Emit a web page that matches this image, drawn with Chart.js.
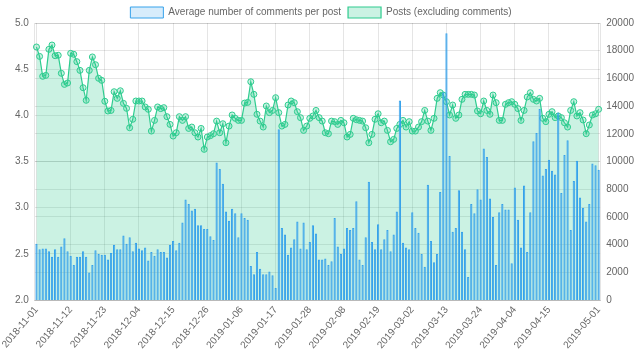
<!DOCTYPE html>
<html>
<head>
<meta charset="utf-8">
<script src="https://cdn.jsdelivr.net/npm/chart.js@4.4.1/dist/chart.umd.min.js"></script>
<style>
  html, body { margin: 0; padding: 0; background: #fff; }
  #wrap { width: 640px; height: 361px; }
</style>
</head>
<body>
<div id="wrap"><canvas id="postcanvas"></canvas></div>
<script>
// daily labels, 2018-11-01 .. 2019-05-01
var startDay = "2018-11-01";
var dayCount = 182;
var dayLabels = [];
var d0 = new Date(startDay + "T00:00:00Z");
for (var i = 0; i < dayCount; i++) {
    var d = new Date(d0.getTime() + i * 86400000);
    dayLabels.push(d.toISOString().slice(0, 10));
}

// average number of comments per post (left axis)
var avgComments = [
    2.61, 2.55, 2.56, 2.56, 2.53, 2.47, 2.55, 2.47, 2.58, 2.67, 2.53, 2.48, 2.38, 2.47, 2.47, 2.53,
    2.47, 2.30, 2.38, 2.54, 2.50, 2.49, 2.49, 2.44, 2.51, 2.60, 2.55, 2.55, 2.70, 2.61, 2.68,
    2.53, 2.62, 2.56, 2.54, 2.57, 2.43, 2.52, 2.48, 2.55, 2.52, 2.52, 2.46, 2.60, 2.64, 2.54,
    2.62, 2.84, 3.09, 3.04, 2.97, 2.99, 2.81, 2.81, 2.77, 2.77, 2.69, 2.65, 3.49, 3.42, 3.26,
    2.96, 2.86, 2.99, 2.94, 2.68, 2.94, 2.89, 2.87, 2.37, 2.28, 2.52, 2.34, 2.28, 2.28, 2.31,
    2.27, 2.13, 3.85, 2.78, 2.71, 2.49, 2.57, 2.66, 2.85, 2.56, 2.84, 2.55, 2.63, 2.81, 2.72,
    2.44, 2.44, 2.45, 2.38, 2.42, 2.89, 2.58, 2.50, 2.56, 2.78, 2.76, 2.78, 3.07, 2.44, 2.38,
    2.68, 3.28, 2.63, 2.55, 2.82, 2.55, 2.66, 2.76, 2.53, 2.71, 2.96, 4.16, 2.62, 2.57, 2.55, 2.95,
    2.78, 2.73, 2.50, 2.36, 3.25, 2.64, 2.41, 2.50, 3.17, 4.25, 4.89, 3.56, 2.74, 2.78, 3.19,
    2.74, 2.55, 2.25, 3.04, 2.94, 3.20, 3.09, 3.64, 3.55, 3.10, 2.90, 2.38, 2.95, 3.04, 2.98, 2.98,
    2.40, 3.22, 2.87, 2.57, 3.24, 2.52, 2.95, 3.72, 3.81, 4.07, 3.35, 3.42, 3.52, 3.40, 3.36,
    4.03, 3.16, 3.57, 3.73, 2.76, 3.29, 3.51, 3.11, 3.00, 2.85, 3.04, 3.48, 3.46, 3.41
];

// posts excluding comments (right axis)
var postCounts = [
    18270, 17590, 16150, 16220, 18100, 18410, 17640, 17670, 16370, 15570, 15670, 17810, 17740, 17210, 16580, 15330,
    14420, 16580, 17550, 16990, 16010, 15860, 14350, 13650, 13690, 15040, 14560, 15110, 14200, 13840, 12440,
    13050, 14370, 14370, 14370, 13940, 13770, 12200, 12970, 13940, 13820, 13890, 13240, 12680, 11840, 12080,
    13240, 12970, 13240, 12390, 12490, 12080, 11770, 12390, 10880, 11770, 11870, 12010, 12920, 12080, 12730,
    11360, 12560, 13360, 13120, 12970, 12970, 14220, 14270, 15760, 14850, 13410, 12920, 12490, 14010, 13530,
    13690, 14610, 13530, 12560, 12680, 14080, 14370, 14250, 13600, 13170, 12250, 12560, 13120, 13290, 13690,
    13170, 12920, 12080, 12010, 12920, 12880, 12680, 12970, 12800, 11770, 11960, 13120, 13020, 12970, 12920,
    12440, 11360, 11960, 13050, 13450, 12800, 12920, 12250, 11430, 11600, 12390, 12680, 12970, 12490, 12880, 12200,
    12200, 12490, 12880, 13690, 12920, 12250, 13120, 14560, 14970, 14800, 14320, 13360, 14080, 13120, 13360,
    14490, 14850, 14850, 14850, 14800, 13650, 13450, 14370, 13690, 13410, 14800, 14250, 12970, 12970, 14130, 14250,
    14320, 14130, 13820, 12970, 13690, 14660, 14970, 14490, 14370, 14560, 13120, 12880, 13410, 13600, 13170,
    13290, 13170, 12800, 12490, 13690, 14320, 13290, 13530, 13000, 12010, 12640, 13360, 13450, 13770
];

var labelStep = 11;

Chart.defaults.font.family = "'Helvetica Neue', Helvetica, Arial, sans-serif";
Chart.defaults.color = '#666';

var config = {
    type: 'bar',
    data: {
        labels: dayLabels,
        datasets: [{
            label: 'Average number of comments per post',
            data: avgComments,
            yAxisID: 'y',
            backgroundColor: 'rgba(54, 162, 235, 0.2)',
            borderColor: 'rgb(54, 162, 235)',
            borderWidth: 1,
            categoryPercentage: 0.8,
            barPercentage: 0.9
        }, {
            type: 'line',
            label: 'Posts (excluding comments)',
            data: postCounts,
            yAxisID: 'y1',
            borderColor: 'rgb(46, 204, 143)',
            backgroundColor: 'rgba(46, 204, 143, 0.25)',
            borderWidth: 1.2,
            fill: 'origin',
            tension: 0,
            pointRadius: 3,
            pointBorderWidth: 1
        }]
    },
    options: {
        responsive: true,
        maintainAspectRatio: false,
        animation: false,
        layout: { padding: { left: 2, right: 0, top: 0, bottom: 6 } },
        plugins: {
            legend: {
                position: 'top',
                maxHeight: 23,
                labels: {
                    boxWidth: 33,
                    boxHeight: 11,
                    padding: 7,
                    font: { size: 10 }
                }
            },
            tooltip: { enabled: false }
        },
        scales: {
            x: {
                offset: true,
                grid: { offset: false, color: 'rgba(0,0,0,0.1)', drawTicks: false },
                ticks: {
                    autoSkip: false,
                    minRotation: 50,
                    maxRotation: 50,
                    padding: 4,
                    font: { size: 10 },
                    callback: function(val, i) {
                        var last = dayLabels.length - 1;
                        if (i === last) return dayLabels[i];
                        if (i % labelStep === 0 && i + labelStep < dayLabels.length) return dayLabels[i];
                        return null;
                    }
                }
            },
            y: {
                position: 'left',
                min: 2,
                max: 5,
                grid: { color: 'rgba(0,0,0,0.1)', drawTicks: false },
                ticks: {
                    stepSize: 0.5,
                    padding: 6,
                    font: { size: 10 },
                    callback: function(v) { return v.toFixed(1); }
                }
            },
            y1: {
                position: 'right',
                min: 0,
                max: 20000,
                grid: { color: 'rgba(0,0,0,0.1)', drawTicks: false },
                ticks: {
                    stepSize: 2000,
                    padding: 6,
                    font: { size: 10 },
                    callback: function(v) { return String(v); }
                }
            }
        }
    }
};

var ctx = document.getElementById('postcanvas').getContext('2d');
var postChart = new Chart(ctx, config);
</script>
</body>
</html>
